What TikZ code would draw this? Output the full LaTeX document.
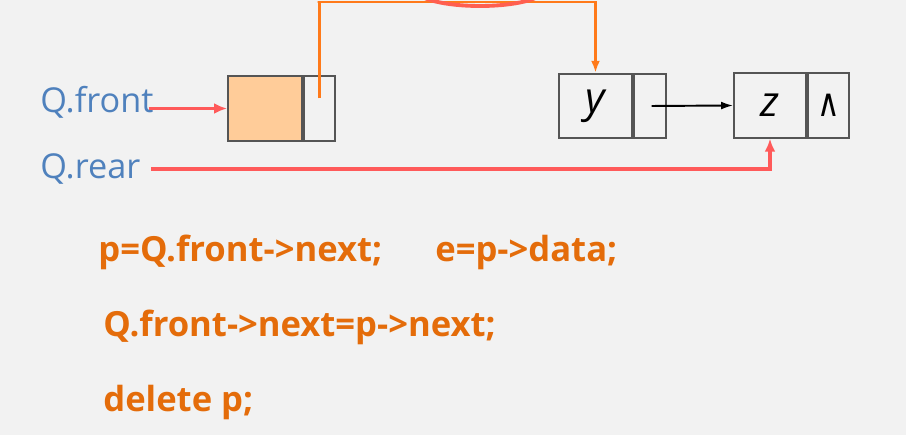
\documentclass[tikz,border=0pt]{standalone}
\usepackage{fontspec}
\setmainfont{Open Sans}
\newfontfamily\symfont{DejaVu Sans}
\usepackage{tikz}
\usetikzlibrary{arrows.meta, positioning}
\definecolor{qBack}{HTML}{F2F2F2}
\definecolor{qBlue}{HTML}{4F81BD}
\definecolor{qCode}{HTML}{E46C0A}
\definecolor{qPtr}{HTML}{FF7A1A}
\definecolor{qRed}{HTML}{FF5A5A}
\definecolor{qFill}{HTML}{FFCC99}
\definecolor{qLine}{HTML}{555555}

\begin{document}
\begin{tikzpicture}[
  font=\fontsize{19.5}{22}\selectfont, node distance=0pt,
  cell/.style={draw=qLine, line width=1.1pt, minimum height=1.29cm, inner sep=0pt,
               font=\fontsize{24}{26}\selectfont\itshape},
  lbl/.style={text=qBlue, anchor=west, inner sep=0pt},
  code/.style={text=qCode, anchor=base west, inner sep=0pt,
               font=\fontsize{19.7}{22}\selectfont\bfseries},
  redarr/.style={-{Latex[length=2.6mm, width=2.2mm]}, draw=qRed, line width=1.8pt},
  ptrarr/.style={-{Latex[length=2.4mm, width=1.8mm]}, draw=qPtr, line width=1.4pt},
  nxtarr/.style={-{Latex[length=2.4mm, width=1.6mm]}, draw=black, line width=1.1pt},
]
\clip (0,0) rectangle (18.12,8.70);
\fill[qBack] (0,0) rectangle (18.12,8.70);

% head node and list nodes
\node[cell, fill=qFill, minimum width=1.48cm] (frontdata) at (5.30,6.53) {};
\node[cell, minimum width=0.62cm, right=of frontdata] (frontnext) {};
\node[cell, minimum width=1.46cm] (ydata) at (11.91,6.58) {y};
\node[cell, minimum width=0.64cm, right=of ydata] (ynext) {};
\node[cell, minimum width=1.44cm] (zdata) at (15.40,6.59) {z};
\node[cell, minimum width=0.82cm, right=of zdata, font=\fontsize{22}{24}\selectfont\symfont\addfontfeature{FakeStretch=0.8}] (znext) {∧};

\node[lbl] (qfront) at (0.80,6.66) {Q.front};
\node[lbl] (qrear) at (0.80,5.32) {Q.rear};

\draw[redarr] ([xshift=-3pt]qfront.east |- frontdata.west) -- (frontdata.west);
\draw[redarr] ([xshift=6pt]qrear.east) -| (zdata.south);
\draw[nxtarr] ([xshift=1pt]ynext.center) -- (zdata.west);
\draw[ptrarr] ([yshift=2mm]frontnext.center) |- (6.35,8.66) -| (ydata.north);
\draw[draw=qRed!85!qPtr, line width=2.2pt] (9.60,8.90) ellipse (1.28cm and 0.32cm);

% statements
\node[code] (stmtp) at (1.96,3.47) {p=Q.front->next;};
\node[code] (stmte) at (8.70,3.47) {e=p->data;};
\node[code] (stmtq) at (2.06,1.96) {Q.front->next=p->next;};
\node[code] (stmtd) at (2.06,0.47) {delete p;};
\end{tikzpicture}
\end{document}
